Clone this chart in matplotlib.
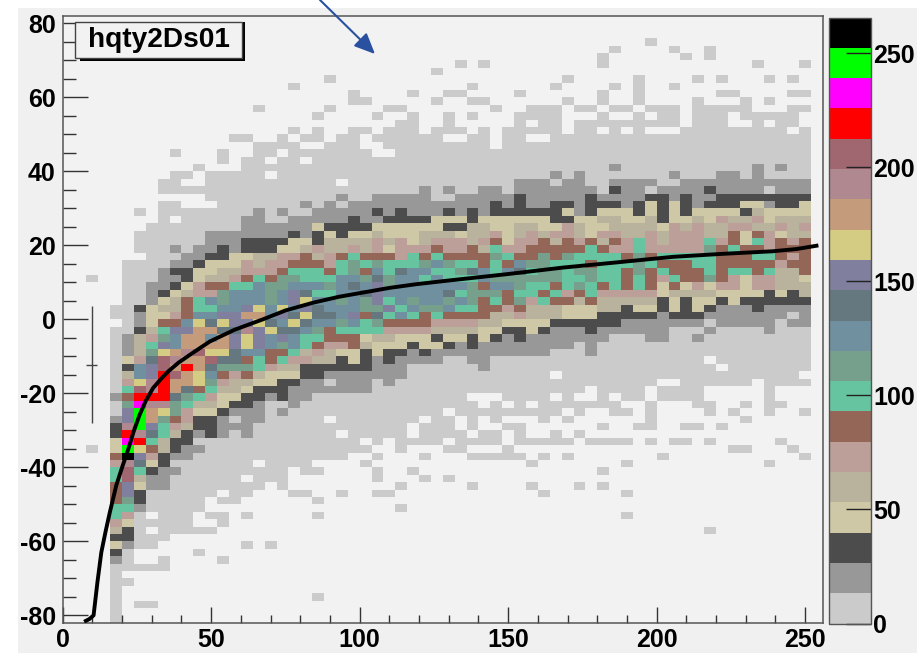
import numpy as np
import matplotlib
matplotlib.use("Agg")
import matplotlib.pyplot as plt
from matplotlib.colors import ListedColormap, BoundaryNorm
from matplotlib.patches import Rectangle, FancyArrowPatch

plt.rcParams['font.family'] = ['Liberation Sans', 'DejaVu Sans']
plt.rcParams['font.weight'] = 'bold'
plt.rcParams['axes.unicode_minus'] = False

# colour level of every cell, top row (y 74..76) first, one char per x bin from x=16
# groups of ten columns, a lone "." is an empty group
level_rows = [
    ". . . . .....1 .",
    ". . . . ..1....1 1",
    ". . . . .1......1 1",
    ". . .........1 .1 .1 ....1...1",
    ". . .......1",
    ". ........1 . ........1 ....1....1 .1...1.1",
    ". .....1 . 1......1 ..1.1..1 .",
    ". . 1....1..11 ....1 .1..1 .11....11",
    ". . 11.....1 11......1 .1..1....1 ...1.1",
    ". ..1.....1 ...11 ..1..111.1 1.11.111.1 1111...11",
    ". .......1 ..1..1..1 1...1111 .1..1.11.1 11.11111",
    ". . ....11..1 ....1.11.1 11111111.1 11..1.11",
    ". .....1.1 11.111.111 .1.11111.1 1.1.1...11 1111111.1",
    ". 11..1.11.1 1.111111 11.11..111 1111111111 111111111",
    ". ..1111..11 1..1111111 11.1111111 1111111111 111111111",
    ".....1...1 ..11.11111 11..111111 1111111111 1111111111 111111111",
    ".........1 .11.11.111 1111111111 1111111111 1111111111 111111111",
    ".......1 .111111111 1111111111 1111111111 1121111111 111121211",
    ".....11.11 111.111111 1111111111 1111111212 1111111211 122121111",
    "....11..11 111111111. 1111111111 1111222122 1122221122 222222222",
    "....111111 1111111111 1111112121 1221222222 2132212222 322221222",
    "........11 1111111112 1122222112 2222322222 3222233232 233333333",
    "....11...1 1111112121 2222222222 2232322332 3332343432 333442334",
    "..1.111111 1121211222 2232322232 3233333342 3444343434 444354444",
    "....1.1111 1221122222 3223333444 3444444334 4554453445 465564555",
    "...1111111 1222222433 3344444433 5544554465 4455554656 556655656",
    "..11111122 2222232343 4454445554 5564565665 4665565666 557476455",
    "..11111122 2333344355 5565645666 5674667576 7576865666 867486767",
    "..11121223 2333445655 6564666766 7586677777 8766866666 978776777",
    "...1112233 4455667567 8777687877 7798779798 8887978888 877788767",
    ".111122344 4656677768 9898889a98 8787a99888 7888987778 877777677",
    ".111233445 5666788878 97a8baa889 ba8ab89989 9887978777 878878557",
    ".111223455 678799888a a9b9aa8a88 8a99999988 9887876877 976466554",
    ".112234677 88a99aaa9a bac9aaaaaa 97aa988789 8787874746 466466555",
    ".112345669 aaa9acb88a abcaaaaab8 9997887867 8666664555 544443435",
    ".1124578a9 aaa9acdaa9 a9c8a9aa9a 9787968775 7555553434 434333333",
    "113455788a acdadacbaa a99c8a99a8 8776755544 4553443434 322232222",
    "1124467aac ceeacbdbba c7b8a87877 7755655544 4333332333 222222212",
    ".12477adbd ccdbadbaa9 a897777666 6554444333 3332222222 122222122",
    "11358cceeb bfcdbba978 8886666555 5443343222 3222222111 211112111",
    "12569aeeae cdcaca8877 7455444344 3432322222 2211122112 111111111",
    "1258caeeee cdca9a8766 7544434432 3222222221 2111111111 111111111",
    "1259defgdd baa7785654 4343323222 2222222111 2111111111 111111111",
    "146bgfeegb b787866553 4323222211 2211111111 1111111111 .11111111",
    "13acgeheb9 9986553333 3322211111 1211111111 1111111111 1.1111111",
    "15achgeda7 6754443322 2222211111 1111111.11 1111111111 11111111.",
    "16dfheed96 5544332212 2212111111 1111111111 111111..11 1111.1111",
    "18gfheb785 5433322222 2211111111 1111111111 .1111.1111 .....1...",
    "27hhhb9864 4332322111 1111111111 ...1111.1. .1.11.1111 .....1...",
    "19iff98554 3321121111 1111111111 1.1.1.1111 111..1...1 1..1.11..",
    "1cjed96443 2221211111 11111111.1 11111111.1 ..11.1.... 1.1..1..1",
    "2cje976332 12211111.1 111111.11. 1.1...1.1. .....1.... ...1.....",
    "3fjc865332 2211111111 11111.111. 1..11..... .1..11..11 .1.......",
    "3hfb853232 121111111. 11111.1111 .11.1..1.1 . .",
    "4ih8533111 1111111111 1.1.1111.1 111.11111. 1111.1.11. 1.....1..",
    "4jd7532211 1111111111 11..1...11 ...1...... . ..11...1.",
    "7kc6322111 1111111111 ..1...1... 11111.1.1. ......1... ........1",
    "6fb4311111 11.1111... .1........ .....1.... ...1...... .....1...",
    "8g83221111 11111.11.. ..1..1.... . .1........ .",
    "8g52211111 1.111..... ..1...1.1. . . .",
    "7c42211111 111.1..... ....1..... 1....1...1 .1........ .",
    "7c3111111. 11...11..1 ..11...... ......1... ...1...... .",
    "79311111.1 1......1.. . . . .",
    "88211111.. . ....1..... . . .",
    "861.111.11 .1.....1.. . . ...1...... .",
    "6411111..1 . . . . .",
    "531.11111. . . . . 1........",
    "33111..... . . . . .",
    "4211...... .1.1...... . . . .",
    "31.....1.. . . . . .",
    "21..1....1 . . . . .",
    "11111..... . . . . .",
    "1......... . . . . .",
    "11........ . . . . .",
    "1......... . . . . .",
    "1......... .......1.. . . . .",
    "1.11...... . . . . .",
    "1......... . . . . .",
    "1......... . . . . .",
]
level_chars = ".123456789abcdefghijk"

# two lone cells left of the band, in the x 8..12 bin
stray_x = [8, 8]
stray_y = [10, -36]

level_colours = ["#cbcbcb", "#989898", "#4c4c4c", "#cfc8a6", "#b9b29c", "#bc9f98", "#946657",
                 "#66c4a0", "#76a08c", "#7090a0", "#66787f", "#807f9e", "#d3cc82", "#c49c7c",
                 "#b08890", "#a06770", "#ff0000", "#ff00ff", "#00ff00", "#000000"]

# fitted curve
fit_x = [7.8, 9, 10.4, 11.7, 13, 14.4, 15.8, 18, 20, 22, 23.9, 25.9, 28, 30.4, 33, 35.5, 39, 42.8,
         49.5, 57.9, 67.4, 75, 84.3, 93, 102.2, 110, 119, 130, 149.4, 168.5, 185.3, 205.5, 222,
         239, 247, 253.8]
fit_y = [-81.5, -81, -80, -71, -63, -57.5, -52.4, -45, -40, -35.3, -30.3, -25.8, -22, -18.6, -16.2,
         -14.1, -11.7, -9.6, -6, -2.8, 0, 2.4, 4.5, 6.1, 7.4, 8.5, 9.5, 10.5, 12.2, 14, 15.3,
         16.9, 17.7, 18.4, 19, 19.9]

# the profile marker on the left
marker_x = 9.8
marker_y = -12.3
marker_xerr = 1.9
marker_yerr = 15.8

x_labels = [0, 50, 100, 150, 200, 250]
y_labels = [-80, -60, -40, -20, 0, 20, 40, 60, 80]
z_labels = [0, 50, 100, 150, 200, 250]

W, H = 924, 653


def fx(x):
    return x / W


def fy(y):
    return 1 - y / H


def parse_rows():
    grid = np.zeros((len(level_rows), 61))
    for i, row in enumerate(level_rows):
        text = "".join(g.ljust(10, ".")[:10] for g in row.split())
        for j, ch in enumerate(text[:59]):
            grid[i, j + 2] = level_chars.index(ch)
    for x, y in zip(stray_x, stray_y):
        grid[(74 - y) // 2, (x - 8) // 4] = 1
    return grid[::-1]


def main():
    fig = plt.figure(figsize=(W / 100, H / 100), dpi=100, facecolor="white")
    fig.add_artist(Rectangle((fx(18), 0), fx(899), fy(8), transform=fig.transFigure,
                             facecolor="#f0f0f0", edgecolor="none", zorder=-1))

    ax = fig.add_axes([fx(62.7), fy(622.7), fx(823 - 62.7), fy(16) - fy(622.7)])
    ax.set_facecolor("#f2f2f2")

    cell_step = 265.6 / len(level_colours)
    edges = np.arange(len(level_colours) + 1) * cell_step
    cmap = ListedColormap(level_colours)
    norm = BoundaryNorm(edges, cmap.N)

    levels = parse_rows()
    counts = np.ma.masked_equal(levels, 0) * cell_step - cell_step / 2
    x_edges = np.arange(8, 8 + 4 * 62, 4)
    y_edges = np.arange(-82, 78, 2)
    mesh = ax.pcolormesh(x_edges, y_edges, counts, cmap=cmap, norm=norm,
                         antialiased=False, linewidth=0)

    ax.plot(fit_x, fit_y, color="black", lw=2.8, solid_joinstyle="round", zorder=4)
    ax.errorbar([marker_x], [marker_y], xerr=marker_xerr, yerr=marker_yerr,
                color="#444444", lw=1.0, zorder=4)

    ax.set_xlim(0, 256)
    ax.set_ylim(-82, 82)
    ax.set_xticks(x_labels)
    ax.set_xticklabels([str(v) for v in x_labels])
    ax.set_yticks(y_labels)
    ax.set_yticklabels([str(v) for v in y_labels])
    ax.set_xticks(np.arange(0, 256, 10), minor=True)
    ax.set_yticks(np.arange(-80, 81, 5), minor=True)
    ax.tick_params(axis="x", which="major", direction="in", length=11.5, width=1, color="#333333",
                   labelsize=18, pad=4)
    ax.tick_params(axis="x", which="minor", direction="in", length=5.5, width=1, color="#333333")
    ax.tick_params(axis="y", which="major", direction="in", length=18, width=1, color="#333333",
                   labelsize=18, pad=5)
    ax.tick_params(axis="y", which="minor", direction="in", length=9, width=1, color="#333333")
    for spine in ax.spines.values():
        spine.set_color("#555555")
        spine.set_linewidth(1.1)

    cax = fig.add_axes([fx(829), fy(623.5), fx(871 - 829), fy(17.5) - fy(623.5)])
    cb = fig.colorbar(mesh, cax=cax, ticks=z_labels, spacing="proportional", drawedges=False)
    cb.ax.set_yticklabels([str(v) for v in z_labels])
    cb.ax.tick_params(axis="y", which="major", direction="in", length=18, width=1, color="#222222",
                      labelsize=18, pad=1.5, right=True, left=False)
    cb.ax.minorticks_off()
    cb.outline.set_edgecolor("#555555")
    cb.outline.set_linewidth(1.0)

    # title box with its shadow
    fig.add_artist(Rectangle((fx(80), fy(61)), fx(165), fy(22) - fy(61),
                             transform=fig.transFigure, facecolor="black", edgecolor="none", zorder=5))
    fig.add_artist(Rectangle((fx(75), fy(57.5)), fx(166.5), fy(22) - fy(57.5), transform=fig.transFigure,
                             facecolor="#f2f2f2", edgecolor="#444444", lw=1.0, zorder=6))
    fig.text(fx(158.5), fy(40), "hqty2Ds01", fontsize=20.2, fontweight="bold", ha="center", va="center", zorder=7)

    fig.add_artist(FancyArrowPatch((fx(320), fy(0)), (fx(375), fy(54)), transform=fig.transFigure,
                                   arrowstyle="-|>,head_length=0.9,head_width=0.4", mutation_scale=14,
                                   color="#2a50a0", lw=1.5, shrinkA=0, shrinkB=0, zorder=8))

    plt.savefig("out.png", dpi=100)


if __name__ == '__main__':
    main()
